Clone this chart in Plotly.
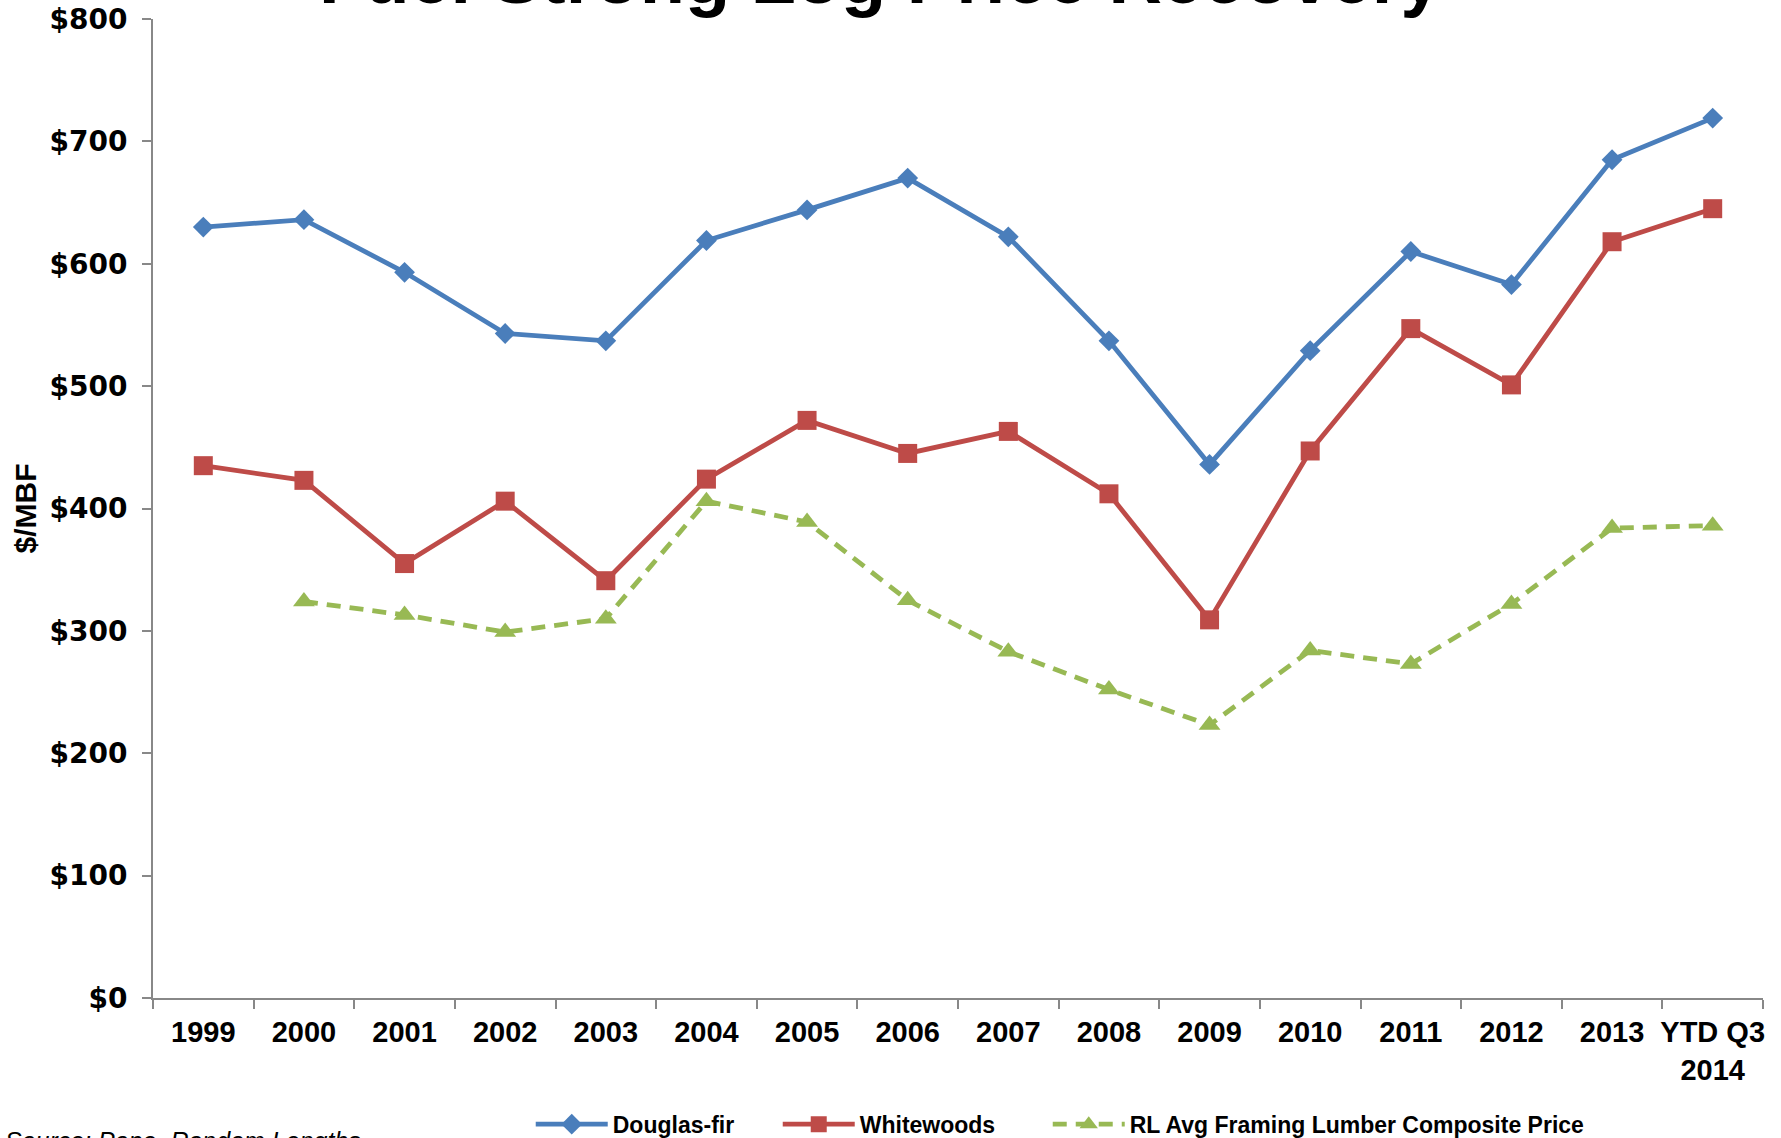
import plotly.graph_objects as go

# Annual average prices, $/MBF
years = ["1999", "2000", "2001", "2002", "2003", "2004", "2005", "2006",
         "2007", "2008", "2009", "2010", "2011", "2012", "2013", "YTD Q3<br>2014"]
douglas_fir = [630, 636, 593, 543, 537, 619, 644, 670, 622, 537, 436, 529, 610, 583, 685, 719]
whitewoods = [435, 423, 355, 406, 341, 424, 472, 445, 463, 412, 309, 447, 547, 501, 618, 645]
rl_composite = [None, 324, 313, 299, 310, 406, 389, 325, 283, 252, 223, 284, 273, 322, 384, 386]

BLUE = "#4A7EBB"
RED = "#BE4B48"
GREEN = "#98B954"
AXIS_GRAY = "#888888"

fig = go.Figure()
fig.add_trace(go.Scatter(
    x=years, y=douglas_fir, name="Douglas-fir", mode="lines+markers",
    line=dict(color=BLUE, width=4.8),
    marker=dict(symbol="diamond", size=16, color=BLUE),
    legendwidth=160,
))
fig.add_trace(go.Scatter(
    x=years, y=whitewoods, name="Whitewoods", mode="lines+markers",
    line=dict(color=RED, width=4.8),
    marker=dict(symbol="square", size=19, color=RED),
    legendwidth=183,
))
fig.add_trace(go.Scatter(
    x=years, y=rl_composite, name="RL Avg Framing Lumber Composite Price",
    mode="lines+markers",
    line=dict(color=GREEN, width=4.8, dash="14px,9px"),
    marker=dict(symbol="triangle-up", size=19, color=GREEN),
))

fig.update_layout(
    width=1781, height=1138,
    margin=dict(l=153, r=18, t=19, b=140, autoexpand=False),
    paper_bgcolor="white", plot_bgcolor="white",
    showlegend=True,
    legend=dict(
        orientation="h", xref="container", yref="container",
        x=0.298, y=0.031, xanchor="left", yanchor="top",
        font=dict(family="Liberation Sans", size=23, color="black", weight="bold"),
        itemwidth=72, tracegroupgap=0,
    ),
    xaxis=dict(
        type="category", range=[-0.5, 15.5], tickangle=0,
        showline=True, linecolor=AXIS_GRAY, linewidth=2,
        ticks="outside", tickson="boundaries", ticklen=9, tickcolor=AXIS_GRAY, tickwidth=1.5,
        showgrid=False, zeroline=False, ticklabelstandoff=7,
        tickfont=dict(family="Liberation Sans", size=29, color="black", weight="bold"),
    ),
    yaxis=dict(
        range=[0, 800], dtick=100, tickprefix="$",
        showline=True, linecolor=AXIS_GRAY, linewidth=2,
        ticks="outside", ticklen=9, tickcolor=AXIS_GRAY, tickwidth=1.5,
        showgrid=False, zeroline=False, ticklabelstandoff=9,
        tickfont=dict(family="DejaVu Sans", size=28, color="black", weight="bold"),
        title=dict(text="$/MBF", standoff=4,
                   font=dict(family="Liberation Sans", size=30, color="black", weight="bold")),
    ),
)

# Chart heading, set high on the page
fig.add_annotation(
    text="<b>Fuel Strong Log Price Recovery</b>",
    xref="paper", yref="paper", x=0.4516, y=0.998,
    xanchor="center", yanchor="bottom", showarrow=False,
    font=dict(family="Liberation Sans", size=74, color="black"),
)

# Data source note
fig.add_annotation(
    text="<i>Source: Pope, Random Lengths</i>",
    xref="paper", yref="paper", x=-0.093, y=-0.130,
    xanchor="left", yanchor="top", showarrow=False,
    font=dict(family="Liberation Sans", size=25, color="black"),
)

fig.write_html("out.html")
